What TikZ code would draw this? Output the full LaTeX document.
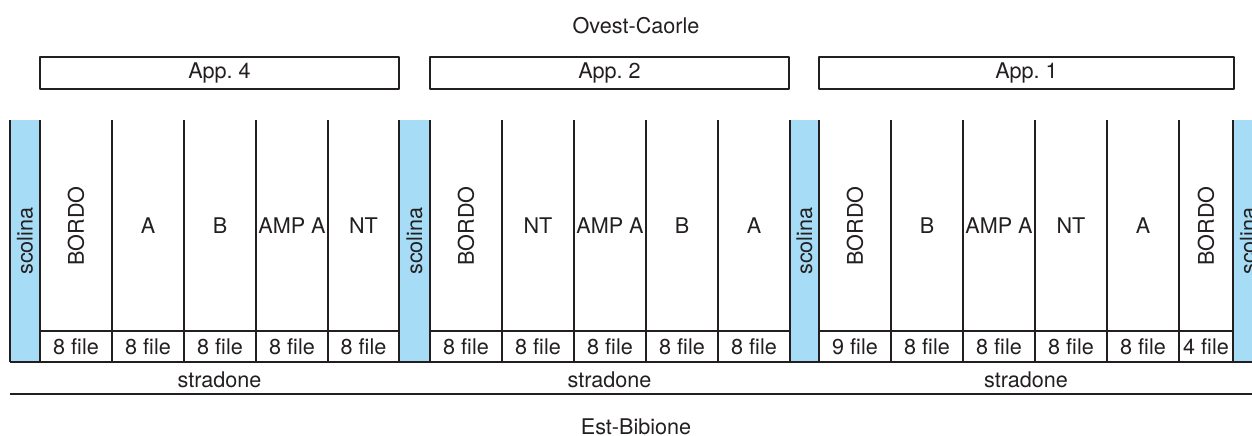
\documentclass[tikz,border=0pt]{standalone}
\usepackage{fontspec}
\setmainfont{TeX Gyre Heros}
\definecolor{scolinablue}{RGB}{166,220,245}
\definecolor{inkgray}{RGB}{35,31,32}
\begin{document}
\frenchspacing
\begin{tikzpicture}[x=0.5pt,y=-0.5pt,line join=bevel,
  font=\fontsize{10.8}{13}\selectfont,
  lbl/.style={inner sep=0pt,text=inkgray},
  vlbl/.style={lbl,rotate=90},
  appbox/.style={draw=inkgray,line width=0.6pt,minimum height=16pt,inner sep=0pt,text=inkgray},
  rule/.style={draw=inkgray,line width=0.6pt},
]
\useasboundingbox (0,0) rectangle (1252,435);
\clip (0,0) rectangle (1252,435);
%%
\fill [scolinablue] (10,120) rectangle (40,362);
\fill [scolinablue] (399,120) rectangle (430,362);
\fill [scolinablue] (790,120) rectangle (819,362);
\fill [scolinablue] (1233,120) rectangle (1263,362);
%
\draw [rule] (10,120) -- (10,362) (40,120) -- (40,362) (112,120) -- (112,362)
  (184,120) -- (184,362) (256,120) -- (256,362) (328,120) -- (328,362)
  (399,120) -- (399,362) (430,120) -- (430,362) (502,120) -- (502,362)
  (574,120) -- (574,362) (646,120) -- (646,362) (718,120) -- (718,362)
  (790,120) -- (790,362) (819,120) -- (819,362) (891,120) -- (891,362)
  (963,120) -- (963,362) (1035,120) -- (1035,362) (1107,120) -- (1107,362)
  (1179,120) -- (1179,362) (1233,120) -- (1233,362);
\draw [rule] (40,331) -- (399,331) (430,331) -- (790,331) (819,331) -- (1233,331);
\draw [rule] (10,362) -- (1252,362);
\draw [rule] (10,394) -- (1252,394);
%%
\node (node_ovest) at (636,26) [lbl] {Ovest-Caorle};
\node (node_app4) at (219.5,73) [appbox,minimum width=179.5pt] {App. 4};
\node (node_app2) at (609.5,73) [appbox,minimum width=179.5pt] {App. 2};
\node (node_app1) at (1026.5,73) [appbox,minimum width=207.5pt] {App. 1};
%
\node (node_sc1) at (25,241) [vlbl] {scolina};
\node (node_sc2) at (414.5,241) [vlbl] {scolina};
\node (node_sc3) at (804.5,241) [vlbl] {scolina};
\node (node_sc4) at (1248,241) [vlbl] {scolina};
%
\node (node_c11) at (76,226) [vlbl] {BORDO};
\node (node_c12) at (148,226) [lbl] {A};
\node (node_c13) at (220,226) [lbl] {B};
\node (node_c14) at (292,226) [lbl] {AMP A};
\node (node_c15) at (363.5,226) [lbl] {NT};
\node (node_c21) at (466,226) [vlbl] {BORDO};
\node (node_c22) at (538,226) [lbl] {NT};
\node (node_c23) at (610,226) [lbl] {AMP A};
\node (node_c24) at (682,226) [lbl] {B};
\node (node_c25) at (754,226) [lbl] {A};
\node (node_c31) at (855,226) [vlbl] {BORDO};
\node (node_c32) at (927,226) [lbl] {B};
\node (node_c33) at (999,226) [lbl] {AMP A};
\node (node_c34) at (1071,226) [lbl] {NT};
\node (node_c35) at (1143,226) [lbl] {A};
\node (node_c36) at (1206,226) [vlbl] {BORDO};
%
\node (node_f11) at (76,346.5) [lbl] {8 file};
\node (node_f12) at (148,346.5) [lbl] {8 file};
\node (node_f13) at (220,346.5) [lbl] {8 file};
\node (node_f14) at (292,346.5) [lbl] {8 file};
\node (node_f15) at (363.5,346.5) [lbl] {8 file};
\node (node_f21) at (466,346.5) [lbl] {8 file};
\node (node_f22) at (538,346.5) [lbl] {8 file};
\node (node_f23) at (610,346.5) [lbl] {8 file};
\node (node_f24) at (682,346.5) [lbl] {8 file};
\node (node_f25) at (754,346.5) [lbl] {8 file};
\node (node_f31) at (855,346.5) [lbl] {9 file};
\node (node_f32) at (927,346.5) [lbl] {8 file};
\node (node_f33) at (999,346.5) [lbl] {8 file};
\node (node_f34) at (1071,346.5) [lbl] {8 file};
\node (node_f35) at (1143,346.5) [lbl] {8 file};
\node (node_f36) at (1206,346.5) [lbl] {4 file};
%
\node (node_str1) at (219.5,380) [lbl] {stradone};
\node (node_str2) at (609.5,380) [lbl] {stradone};
\node (node_str3) at (1026,380) [lbl] {stradone};
\node (node_est) at (636,427) [lbl] {Est-Bibione};
%
\end{tikzpicture}
\end{document}
